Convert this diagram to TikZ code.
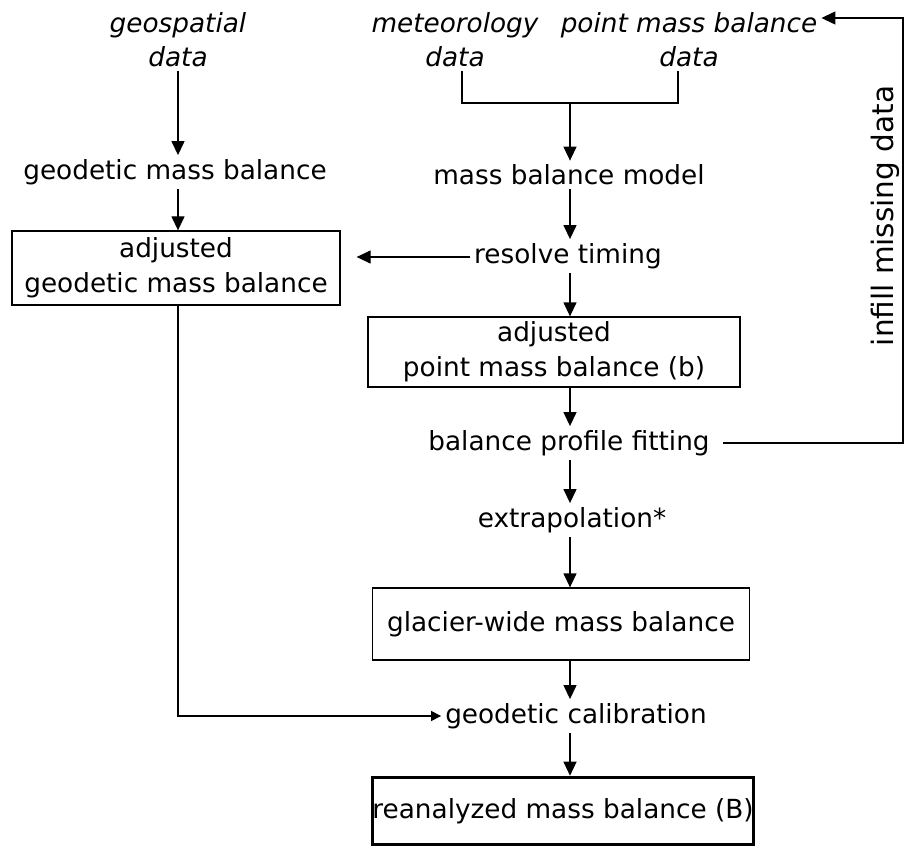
\documentclass[tikz,border=0pt]{standalone}
\usepackage{fontspec}
\setmainfont{DejaVu Sans}
\usetikzlibrary{arrows.meta,positioning}

\begin{document}
\begin{tikzpicture}[
x=1pt, y=-1pt,
every node/.style={
  font=\fontsize{26.3}{35}\selectfont
  },
plain/.style={
  draw=none,
  inner sep=4pt,
  align=center
  },
src/.style={
  plain,
  font=\fontsize{26.3}{34}\selectfont\itshape
  },
box/.style={
  draw,
  line width=1.3pt,
  inner sep=0pt,
  align=center
  },
final/.style={
  box,
  line width=3.6pt
  },
link/.style={
  line width=1.3pt
  },
arr/.style={
  link,
  -{Triangle[length=14pt,width=13pt]}
  }
]
\useasboundingbox (0,0) rectangle (911,848);
% inputs
\node[src] (geo) at (178,40) {geospatial\\data};
\node[src] (met) at (455,40) {meteorology\\data};
\node[src] (pmb) at (689,40) {point mass balance\\data};
% left branch
\coordinate (lspine) at (178,0);
\node[plain] (gmb) at (175,172) {geodetic mass balance};
\node[box, minimum width=328pt, minimum height=74pt] (agmb) at (176,268) {adjusted\\geodetic mass balance};
% main chain
\coordinate (spine) at (570,0);
\coordinate (mid) at (570,103);
\node[plain] (mbm) at (569,175) {mass balance model};
\node[plain] (rt) at (568,256) {resolve timing};
\node[box, minimum width=372pt, minimum height=70pt] (apmb) at (554,352) {adjusted\\point mass balance (b)};
\node[plain] (bpf) at (569,443) {balance profile fitting};
\node[plain] (ext) at (572,520) {extrapolation*};
\node[box, minimum width=377pt, minimum height=72pt] (gwmb) at (561,624) {glacier-wide mass balance};
\node[plain] (gc) at (576,716) {geodetic calibration};
\node[final, minimum width=377pt, minimum height=67pt] (rmb) at (563,811) {reanalyzed mass balance (B)};
\node[plain, rotate=90, font=\fontsize{29.5}{34}\selectfont] (infill) at (885,216) {infill missing data};
\coordinate (loopx) at (903,0);
\path (pmb.east) ++(0,-22) coordinate (fbin);

\draw[arr] (geo.south -| lspine) -- (gmb.north -| lspine);
\draw[arr] (gmb.south -| lspine) -- (agmb.north -| lspine);
\draw[link] ([xshift=7pt]met.south) |- (mid) -| ([xshift=-11pt]pmb.south);
\draw[arr] (mid) -- (mbm.north -| spine);
\foreach \a/\b in {mbm/rt,rt/apmb,apmb/bpf,bpf/ext,ext/gwmb,gwmb/gc,gc/rmb}
  \draw[arr] (\a.south -| spine) -- (\b.north -| spine);
\draw[arr] ([yshift=-1pt]rt.west) -- ([xshift=16pt,yshift=-1pt]rt.west -| agmb.east);
\draw[arr] ([xshift=9pt]bpf.east) -- (bpf.east -| loopx) |- (fbin);
\draw[link, -{Triangle[length=10pt,width=10pt]}] (agmb.south -| lspine) |- (gc.west);
\end{tikzpicture}
\end{document}
